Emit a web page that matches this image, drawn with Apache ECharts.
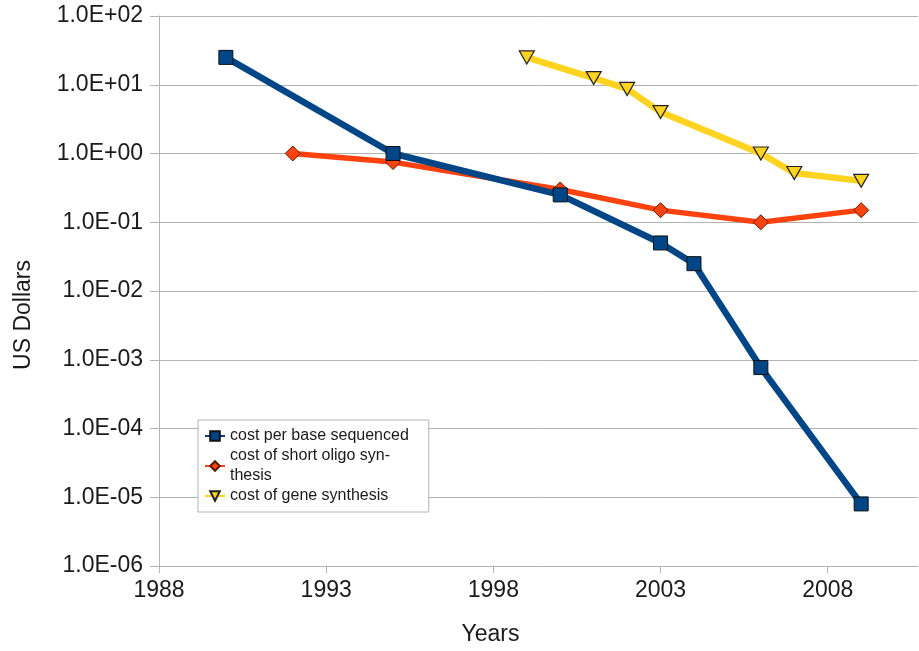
<!DOCTYPE html>
<html>
<head>
<meta charset="utf-8">
<script src="https://cdn.jsdelivr.net/npm/echarts@6/dist/echarts.min.js"></script>
<style>
  html, body { margin: 0; padding: 0; background: #ffffff; }
  #chart { width: 919px; height: 651px; }
</style>
</head>
<body>
<div id="chart"></div>
<script>
// Cost per base sequenced (US$)
const seqYears = [1990, 1995, 2000, 2003, 2004, 2006, 2009];
const seqCost  = [25, 1.0, 0.25, 0.05, 0.025, 7.7e-4, 8e-6];

// Cost of short oligo synthesis (US$ per base)
const oligoYears = [1992, 1995, 2000, 2003, 2006, 2009];
const oligoCost  = [1.0, 0.75, 0.3, 0.15, 0.10, 0.15];

// Cost of gene synthesis (US$ per base)
const geneYears = [1999, 2001, 2002, 2003, 2006, 2007, 2009];
const geneCost  = [25, 12.5, 8.7, 4.0, 1.0, 0.52, 0.4];

// Axis ticks and labels
const xTickYears = [1988, 1993, 1998, 2003, 2008];
const yTickLabels = ['1.0E-06', '1.0E-05', '1.0E-04', '1.0E-03', '1.0E-02',
                     '1.0E-01', '1.0E+00', '1.0E+01', '1.0E+02'];
const yMinExp = -6;

const seriesNames = ['cost per base sequenced', 'cost of short oligo syn-\nthesis', 'cost of gene synthesis'];

const pairs = (xs, ys) => xs.map((x, i) => [x, ys[i]]);

const FONT = '"Liberation Sans", Arial, Helvetica, sans-serif';
const GRID_GRAY = '#b3b3b3';
const TEXT = '#1a1a1a';
const AXIS_FONT = 23;

const chart = echarts.init(document.getElementById('chart'), null, { renderer: 'canvas' });

chart.setOption({
  backgroundColor: '#ffffff',
  animation: false,
  textStyle: { fontFamily: FONT },
  grid: { left: 159, right: 1, top: 16, bottom: 85, containLabel: false },
  legend: {
    orient: 'vertical',
    left: 198,
    top: 420,
    padding: [6, 20, 6, 6],
    itemGap: 0,
    itemWidth: 20,
    itemHeight: 12,
    borderColor: GRID_GRAY,
    borderWidth: 1,
    backgroundColor: '#ffffff',
    textStyle: { fontSize: 16, lineHeight: 20, color: TEXT, fontFamily: FONT },
    data: seriesNames
  },
  xAxis: {
    type: 'value',
    min: 1988,
    max: 2010.7,
    name: 'Years',
    nameLocation: 'middle',
    nameGap: 57,
    nameTextStyle: { fontSize: AXIS_FONT, color: TEXT, fontFamily: FONT, padding: [0, 96, 0, 0] },
    axisLine: { show: true, lineStyle: { color: GRID_GRAY, width: 1 } },
    axisTick: { show: true, customValues: xTickYears, length: 7, lineStyle: { color: GRID_GRAY } },
    axisLabel: {
      customValues: xTickYears,
      fontSize: AXIS_FONT, color: TEXT, margin: 13, fontFamily: FONT,
      formatter: v => String(Math.round(v))
    },
    splitLine: { show: false }
  },
  yAxis: {
    type: 'log',
    logBase: 10,
    min: 1e-6,
    max: 100,
    interval: 1,
    name: 'US Dollars',
    nameLocation: 'middle',
    nameGap: 124,
    nameRotate: 90,
    nameTextStyle: { fontSize: AXIS_FONT, color: TEXT, fontFamily: FONT, padding: [0, 48, 0, 0] },
    axisLine: { show: true, lineStyle: { color: GRID_GRAY, width: 1 } },
    axisTick: { show: true, inside: false, length: 9, lineStyle: { color: GRID_GRAY } },
    axisLabel: {
      fontSize: AXIS_FONT, color: TEXT, margin: 16, fontFamily: FONT,
      formatter: v => {
        const idx = Math.round(Math.log10(v)) - yMinExp;
        return yTickLabels[idx] !== undefined ? yTickLabels[idx] : '';
      }
    },
    splitLine: { show: true, lineStyle: { color: GRID_GRAY, width: 1 } },
    minorTick: { show: false },
    minorSplitLine: { show: false }
  },
  series: [
    {
      name: seriesNames[0],
      type: 'line',
      z: 4,
      data: pairs(seqYears, seqCost),
      symbol: 'rect',
      symbolSize: 14,
      showAllSymbol: true,
      lineStyle: { color: '#004586', width: 6.5 },
      itemStyle: { color: '#004586', borderColor: '#111111', borderWidth: 1 }
    },
    {
      name: seriesNames[1],
      type: 'line',
      z: 3,
      data: pairs(oligoYears, oligoCost),
      symbol: 'diamond',
      symbolSize: [15, 15],
      showAllSymbol: true,
      lineStyle: { color: '#ff420e', width: 5.5 },
      itemStyle: { color: '#ff420e', borderColor: '#5a1a05', borderWidth: 1 }
    },
    {
      name: seriesNames[2],
      type: 'line',
      z: 2,
      data: pairs(geneYears, geneCost),
      symbol: 'triangle',
      symbolRotate: 180,
      symbolSize: [15, 13],
      showAllSymbol: true,
      lineStyle: { color: '#ffd320', width: 6.5 },
      itemStyle: { color: '#ffd320', borderColor: '#222222', borderWidth: 1.2 }
    }
  ]
});
</script>
</body>
</html>
